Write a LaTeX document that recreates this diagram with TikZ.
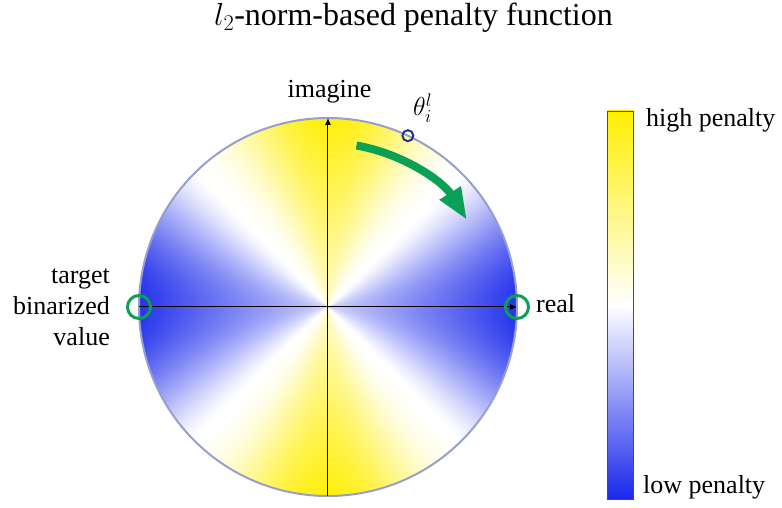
\RequirePackage{fix-cm}
\documentclass[tikz,border=0pt]{standalone}
\usepackage{fontspec}
\setmainfont{Liberation Serif}
\usepackage{amsmath}
\usetikzlibrary{arrows.meta}
\definecolor{penBlue}{RGB}{25,40,235}
\definecolor{penYellow}{RGB}{255,238,0}
\definecolor{penGreen}{RGB}{10,160,85}
\definecolor{rimGray}{RGB}{150,160,205}
\definecolor{markBlue}{RGB}{35,55,140}

\begin{document}
\begin{tikzpicture}[x=1pt,y=1pt,
    lbl/.style={font=\fontsize{26}{31}\selectfont, inner sep=0pt},
    targetRing/.style={circle, draw=penGreen, line width=3pt, minimum size=23pt, inner sep=0pt}]
    \useasboundingbox (-328,-201) rectangle (454,307);
    \def\R{189}

    % key points of the unit circle
    \coordinate (O) at (0,0);
    \coordinate (east) at (\R,0);
    \coordinate (west) at (-\R,0);
    \coordinate (north) at (0,\R);
    \coordinate (south) at (0,-\R);
    \coordinate (arcStart) at (80:164);

    % angular penalty shading
    \begin{scope}
        \clip (O) circle (\R);
        \foreach \a in {0,1,...,359}{
            \pgfmathsetmacro\cosv{cos(2*(\a+0.5))}
            \ifdim\cosv pt>0pt
                \def\col{penBlue}\pgfmathsetmacro\tint{95*abs(\cosv)^1.3}
            \else
                \def\col{penYellow}\pgfmathsetmacro\tint{95*abs(\cosv)^2.1}
            \fi
            \pgfmathsetmacro\tintIn{0.22*\tint}
            \begin{scope}
                \clip (O) -- (\a-0.5:\R+4) -- (\a+1.5:\R+4) -- cycle;
                \shade[inner color=\col!\tintIn!white, outer color=\col!\tint!white]
                    (O) circle (\R);
            \end{scope}
        }
    \end{scope}
    \draw[rimGray, line width=2pt] (O) circle (\R);

    % axes
    \draw[line width=1pt, -{Latex[length=7pt,width=6pt]}] (west) -- (east);
    \draw[line width=1pt, -{Latex[length=7pt,width=6pt]}] (south) -- (north);

    % marks on the rim
    \node[targetRing] (ringL) at (west) {};
    \node[targetRing] (ringR) at (east) {};
    \node[circle, draw=markBlue, line width=2pt, minimum size=11pt, inner sep=0pt] (thetaMark) at (65:\R) {};

    % rotation arrow
    \draw[penGreen, line width=8pt, -{Triangle[length=32pt,width=23pt]}]
        (arcStart) arc[start angle=80, end angle=32, radius=164];

    % colour bar
    \shade[top color=penYellow, bottom color=penBlue, middle color=white]
        (279,-192) rectangle (305,196);
    \draw[gray!60!black, line width=0.8pt] (279,-192) rectangle (305,196);

    % labels
    \node[font=\fontsize{32}{38}\selectfont, inner sep=0pt, anchor=base] (title) at (85.5,281)
        {$l_2$-norm-based penalty function};
    \node[lbl, anchor=base] (imagLbl) at (1.5,209) {imagine};
    \node[lbl, anchor=base west] (thetaLbl) at (85,191) {$\theta_i^l$};
    \node[lbl, anchor=base west] (realLbl) at (208,-6) {real};
    \node[lbl, anchor=east, align=right] (targetLbl) at (-218,0) {target\\binarized\\value};
    \node[lbl, anchor=base west] (highLbl) at (318,180) {high penalty};
    \node[lbl, anchor=base west] (lowLbl) at (315,-187) {low penalty};
\end{tikzpicture}
\end{document}
